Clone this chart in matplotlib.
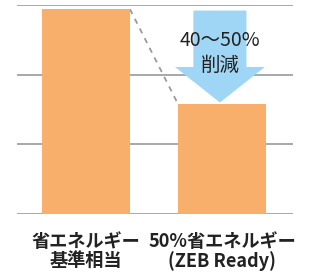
import matplotlib.pyplot as plt
from matplotlib.patches import FancyArrow

plt.rcParams['font.family'] = ['Noto Sans CJK JP', 'DejaVu Sans']

# Daten
categories = ['省エネルギー\n基準相当', '50%省エネルギー\n(ZEB Ready)']
values = [2.94, 1.58]
arrow_top = 2.92
arrow_label = '40～50%\n削減'
grid_levels = [0, 1, 2, 3]

bar_color = '#F8AF6C'
arrow_color = '#9FD6F5'
grid_color = '#A8A8A8'
bar_width = 0.647

fig = plt.figure(figsize=(3.2, 2.76), dpi=100)
ax = fig.add_axes([0.053, 0.2246, 0.8625, 0.7574])

for g in grid_levels:
    ax.axhline(g, color=grid_color, lw=1.4, zorder=0)

x = list(range(len(categories)))
ax.bar(x, values, width=bar_width, color=bar_color, zorder=2)

# gestrichelte Verbindungslinie
ax.plot([x[0] + bar_width / 2, x[1] - bar_width / 2], [values[0], values[1]],
        color='#9A9A9A', lw=1.3, ls=(0, (3, 3)), zorder=1)

# Pfeil nach unten
head_len = 0.51
arr = FancyArrow(x[1] - 0.015, arrow_top, 0, values[1] - arrow_top + 0.02,
                 width=0.39, head_width=0.66, head_length=head_len,
                 length_includes_head=True, color=arrow_color, lw=0, zorder=3)
ax.add_patch(arr)
ax.text(x[1] - 0.015, 2.31, arrow_label, ha='center', va='center',
        fontsize=14, linespacing=1.25, color='#222222', zorder=4)

ax.set_xlim(-0.507, 1.522)
ax.set_ylim(0, 3)
ax.set_xticks(x)
ax.set_xticklabels(categories, fontsize=13.1, fontweight='bold', linespacing=1.0,
                   color='#222222')
ax.tick_params(axis='x', length=0, pad=13)
ax.set_yticks([])
for s in ax.spines.values():
    s.set_visible(False)
ax.patch.set_alpha(0)

plt.savefig('out.png', dpi=100)
